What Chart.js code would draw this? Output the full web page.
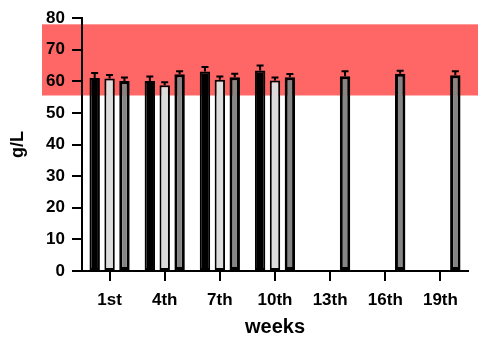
<!DOCTYPE html>
<html>
<head>
<meta charset="utf-8">
<script src="https://cdn.jsdelivr.net/npm/chart.js@4"></script>
<style>
  html, body { margin: 0; padding: 0; background: #fff; }
  #wrap { width: 478px; height: 341px; }
</style>
</head>
<body>
<div id="wrap"><canvas id="chart"></canvas></div>
<script>
const weeks = ['1st', '4th', '7th', '10th', '13th', '16th', '19th'];
const yTicks = [0, 10, 20, 30, 40, 50, 60, 70, 80];

const seriesA = [61.0, 60.1, 63.1, 63.4, null, null, null];
const errA = [1.6, 1.4, 1.4, 1.6, null, null, null];
const seriesB = [60.9, 58.7, 60.5, 60.2, null, null, null];
const errB = [1.1, 1.0, 1.0, 1.0, null, null, null];
const seriesC = [60.1, 62.2, 61.3, 61.3, 61.6, 62.4, 61.9];
const errC = [1.1, 1.0, 1.1, 1.0, 1.6, 0.9, 1.3];

// reference range shaded in red
const bandLow = 55.5;
const bandHigh = 78;

const bandPlugin = {
    id: 'band',
    beforeDraw(chart) {
        const { ctx, chartArea, scales: { y } } = chart;
        const top = y.getPixelForValue(bandHigh);
        const bottom = y.getPixelForValue(bandLow);
        ctx.save();
        ctx.fillStyle = '#ff6666';
        ctx.fillRect(chartArea.left - 40, top, chart.width - chartArea.left + 40, bottom - top);
        ctx.restore();
    }
};

const errorPlugin = {
    id: 'errbars',
    afterDatasetsDraw(chart) {
        const { ctx, scales: { y } } = chart;
        ctx.save();
        ctx.strokeStyle = '#000';
        ctx.lineWidth = 2;
        chart.data.datasets.forEach((ds, i) => {
            const meta = chart.getDatasetMeta(i);
            meta.data.forEach((bar, j) => {
                const v = ds.data[j];
                const e = ds.errors[j];
                if (v == null || e == null) return;
                const yTop = y.getPixelForValue(v + e);
                ctx.beginPath();
                ctx.moveTo(bar.x, bar.y);
                ctx.lineTo(bar.x, yTop);
                ctx.moveTo(bar.x - 3.5, yTop);
                ctx.lineTo(bar.x + 3.5, yTop);
                ctx.stroke();
            });
        });
        ctx.restore();
    }
};

const tickFont = { family: 'Liberation Sans', weight: 'bold', size: 17 };

new Chart(document.getElementById('chart'), {
    type: 'bar',
    data: {
        labels: weeks,
        datasets: [
            { data: seriesA, errors: errA, backgroundColor: '#000', borderColor: '#000', borderWidth: 2 },
            { data: seriesB, errors: errB, backgroundColor: '#dcdcdc', borderColor: '#000', borderWidth: 2 },
            { data: seriesC, errors: errC, backgroundColor: '#858585', borderColor: '#000', borderWidth: 3 }
        ]
    },
    options: {
        responsive: true,
        maintainAspectRatio: false,
        animation: false,
        datasets: { bar: { categoryPercentage: 0.81, barPercentage: 0.7, borderSkipped: false } },
        layout: { padding: { top: 18, right: 10, left: 0, bottom: 0 } },
        plugins: { legend: { display: false }, tooltip: { enabled: false } },
        scales: {
            x: {
                afterFit: s => { s.height = 70; },
                grid: { offset: false, drawOnChartArea: false, tickLength: 10, color: '#000', lineWidth: 2 },
                border: { display: true, color: '#000', width: 2 },
                ticks: { color: '#000', font: tickFont, padding: 9 },
                title: { display: true, text: 'weeks', color: '#000', font: { family: 'Liberation Sans', weight: 'bold', size: 20 }, padding: { top: 2, bottom: 2 } }
            },
            y: {
                min: 0, max: 80,
                afterFit: s => { s.width = 82; },
                afterBuildTicks: s => { s.ticks = yTicks.map(v => ({ value: v })); },
                grid: { drawOnChartArea: false, tickLength: 10, color: '#000', lineWidth: 2 },
                border: { display: true, color: '#000', width: 2 },
                ticks: { color: '#000', font: tickFont, padding: 7 },
                title: { display: true, text: 'g/L', color: '#000', font: { family: 'Liberation Sans', weight: 'bold', size: 18 }, padding: { top: 7, bottom: 0 } }
            }
        }
    },
    plugins: [bandPlugin, errorPlugin]
});
</script>
</body>
</html>
